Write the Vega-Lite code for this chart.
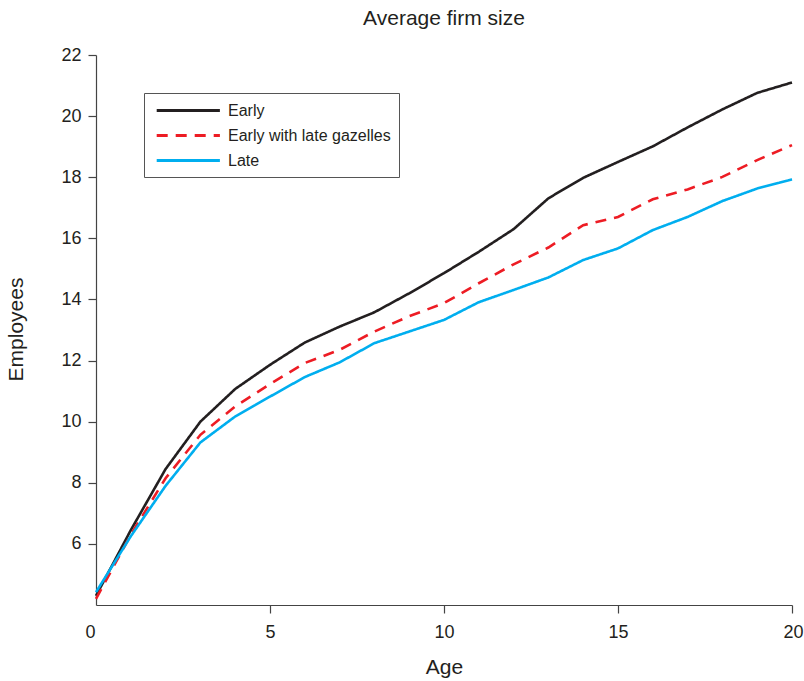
{
  "$schema": "https://vega.github.io/schema/vega-lite/v6.json",
  "width": 696,
  "height": 550,
  "autosize": "none",
  "padding": {"left": 96, "top": 55, "right": 12, "bottom": 76},
  "background": "white",
  "title": {"text": "Average firm size", "fontSize": 21, "fontWeight": "normal", "font": "Liberation Sans", "color": "#231f20", "anchor": "middle", "offset": 17},
  "config": {
    "view": {"stroke": null},
    "font": "Liberation Sans",
    "axis": {"domainColor": "#444", "tickColor": "#444", "labelColor": "#231f20", "titleColor": "#231f20", "labelFont": "Liberation Sans", "titleFont": "Liberation Sans", "labelFontSize": 18, "titleFontSize": 21, "titleFontWeight": "normal", "grid": false, "tickSize": 8, "domainWidth": 1.2, "tickWidth": 1.2}
  },
  "data": {
    "values": [
      {"age": 0, "series": "Early", "value": 4.3},
      {"age": 1, "series": "Early", "value": 6.45},
      {"age": 2, "series": "Early", "value": 8.45},
      {"age": 3, "series": "Early", "value": 10.0},
      {"age": 4, "series": "Early", "value": 11.07},
      {"age": 5, "series": "Early", "value": 11.86},
      {"age": 6, "series": "Early", "value": 12.59},
      {"age": 7, "series": "Early", "value": 13.11},
      {"age": 8, "series": "Early", "value": 13.58},
      {"age": 9, "series": "Early", "value": 14.2},
      {"age": 10, "series": "Early", "value": 14.86},
      {"age": 11, "series": "Early", "value": 15.56},
      {"age": 12, "series": "Early", "value": 16.3},
      {"age": 13, "series": "Early", "value": 17.31},
      {"age": 14, "series": "Early", "value": 17.98},
      {"age": 15, "series": "Early", "value": 18.5},
      {"age": 16, "series": "Early", "value": 19.01},
      {"age": 17, "series": "Early", "value": 19.63},
      {"age": 18, "series": "Early", "value": 20.22},
      {"age": 19, "series": "Early", "value": 20.76},
      {"age": 20, "series": "Early", "value": 21.1},
      {"age": 0, "series": "Early with late gazelles", "value": 4.2},
      {"age": 1, "series": "Early with late gazelles", "value": 6.3},
      {"age": 2, "series": "Early with late gazelles", "value": 8.15},
      {"age": 3, "series": "Early with late gazelles", "value": 9.57},
      {"age": 4, "series": "Early with late gazelles", "value": 10.5},
      {"age": 5, "series": "Early with late gazelles", "value": 11.23},
      {"age": 6, "series": "Early with late gazelles", "value": 11.92},
      {"age": 7, "series": "Early with late gazelles", "value": 12.35},
      {"age": 8, "series": "Early with late gazelles", "value": 12.95},
      {"age": 9, "series": "Early with late gazelles", "value": 13.45},
      {"age": 10, "series": "Early with late gazelles", "value": 13.88},
      {"age": 11, "series": "Early with late gazelles", "value": 14.53},
      {"age": 12, "series": "Early with late gazelles", "value": 15.15},
      {"age": 13, "series": "Early with late gazelles", "value": 15.7},
      {"age": 14, "series": "Early with late gazelles", "value": 16.43},
      {"age": 15, "series": "Early with late gazelles", "value": 16.7},
      {"age": 16, "series": "Early with late gazelles", "value": 17.28},
      {"age": 17, "series": "Early with late gazelles", "value": 17.6},
      {"age": 18, "series": "Early with late gazelles", "value": 18.01},
      {"age": 19, "series": "Early with late gazelles", "value": 18.56},
      {"age": 20, "series": "Early with late gazelles", "value": 19.05},
      {"age": 0, "series": "Late", "value": 4.42},
      {"age": 1, "series": "Late", "value": 6.25},
      {"age": 2, "series": "Late", "value": 7.9},
      {"age": 3, "series": "Late", "value": 9.32},
      {"age": 4, "series": "Late", "value": 10.17},
      {"age": 5, "series": "Late", "value": 10.82},
      {"age": 6, "series": "Late", "value": 11.46},
      {"age": 7, "series": "Late", "value": 11.94},
      {"age": 8, "series": "Late", "value": 12.57},
      {"age": 9, "series": "Late", "value": 12.95},
      {"age": 10, "series": "Late", "value": 13.33},
      {"age": 11, "series": "Late", "value": 13.91},
      {"age": 12, "series": "Late", "value": 14.31},
      {"age": 13, "series": "Late", "value": 14.72},
      {"age": 14, "series": "Late", "value": 15.29},
      {"age": 15, "series": "Late", "value": 15.67},
      {"age": 16, "series": "Late", "value": 16.27},
      {"age": 17, "series": "Late", "value": 16.7},
      {"age": 18, "series": "Late", "value": 17.22},
      {"age": 19, "series": "Late", "value": 17.63},
      {"age": 20, "series": "Late", "value": 17.93}
    ]
  },
  "mark": {"type": "line", "strokeWidth": 2.6},
  "encoding": {
    "x": {
      "field": "age", "type": "quantitative",
      "scale": {"domain": [0, 20], "nice": false, "zero": false},
      "axis": {"values": [0, 5, 10, 15, 20], "title": "Age", "labelPadding": 10, "labelFlush": true, "labelFlushOffset": 11,
        "tickOpacity": {"condition": {"test": "datum.value == 0", "value": 0}, "value": 1},
        "titleX": 348, "titleY": 62, "titleBaseline": "middle", "titleAlign": "center"}
    },
    "y": {
      "field": "value", "type": "quantitative",
      "scale": {"domain": [4, 22], "nice": false, "zero": false},
      "axis": {"values": [6, 8, 10, 12, 14, 16, 18, 20, 22], "title": "Employees", "labelPadding": 7, "titleX": -80, "titleY": 274, "titleBaseline": "middle", "titleAlign": "center", "titleAngle": -90}
    },
    "color": {
      "field": "series", "type": "nominal",
      "scale": {"domain": ["Early", "Early with late gazelles", "Late"], "range": ["#231f20", "#ed1c24", "#00aeef"]},
      "legend": {
        "title": null, "orient": "none", "legendX": 48, "legendY": 38,
        "strokeColor": "#555", "fillColor": "white", "padding": 8,
        "symbolType": "M-0.6,0H7.3", "symbolSize": 256, "symbolStrokeWidth": 3, "symbolFillColor": "transparent",
        "labelFontSize": 16, "labelFont": "Liberation Sans", "labelColor": "#231f20", "labelOffset": 57, "labelLimit": 400, "rowPadding": 7
      }
    },
    "strokeDash": {
      "field": "series", "type": "nominal",
      "scale": {"domain": ["Early", "Early with late gazelles", "Late"], "range": [[1, 0], [11, 8], [1, 0]]},
      "legend": null
    }
  }
}
